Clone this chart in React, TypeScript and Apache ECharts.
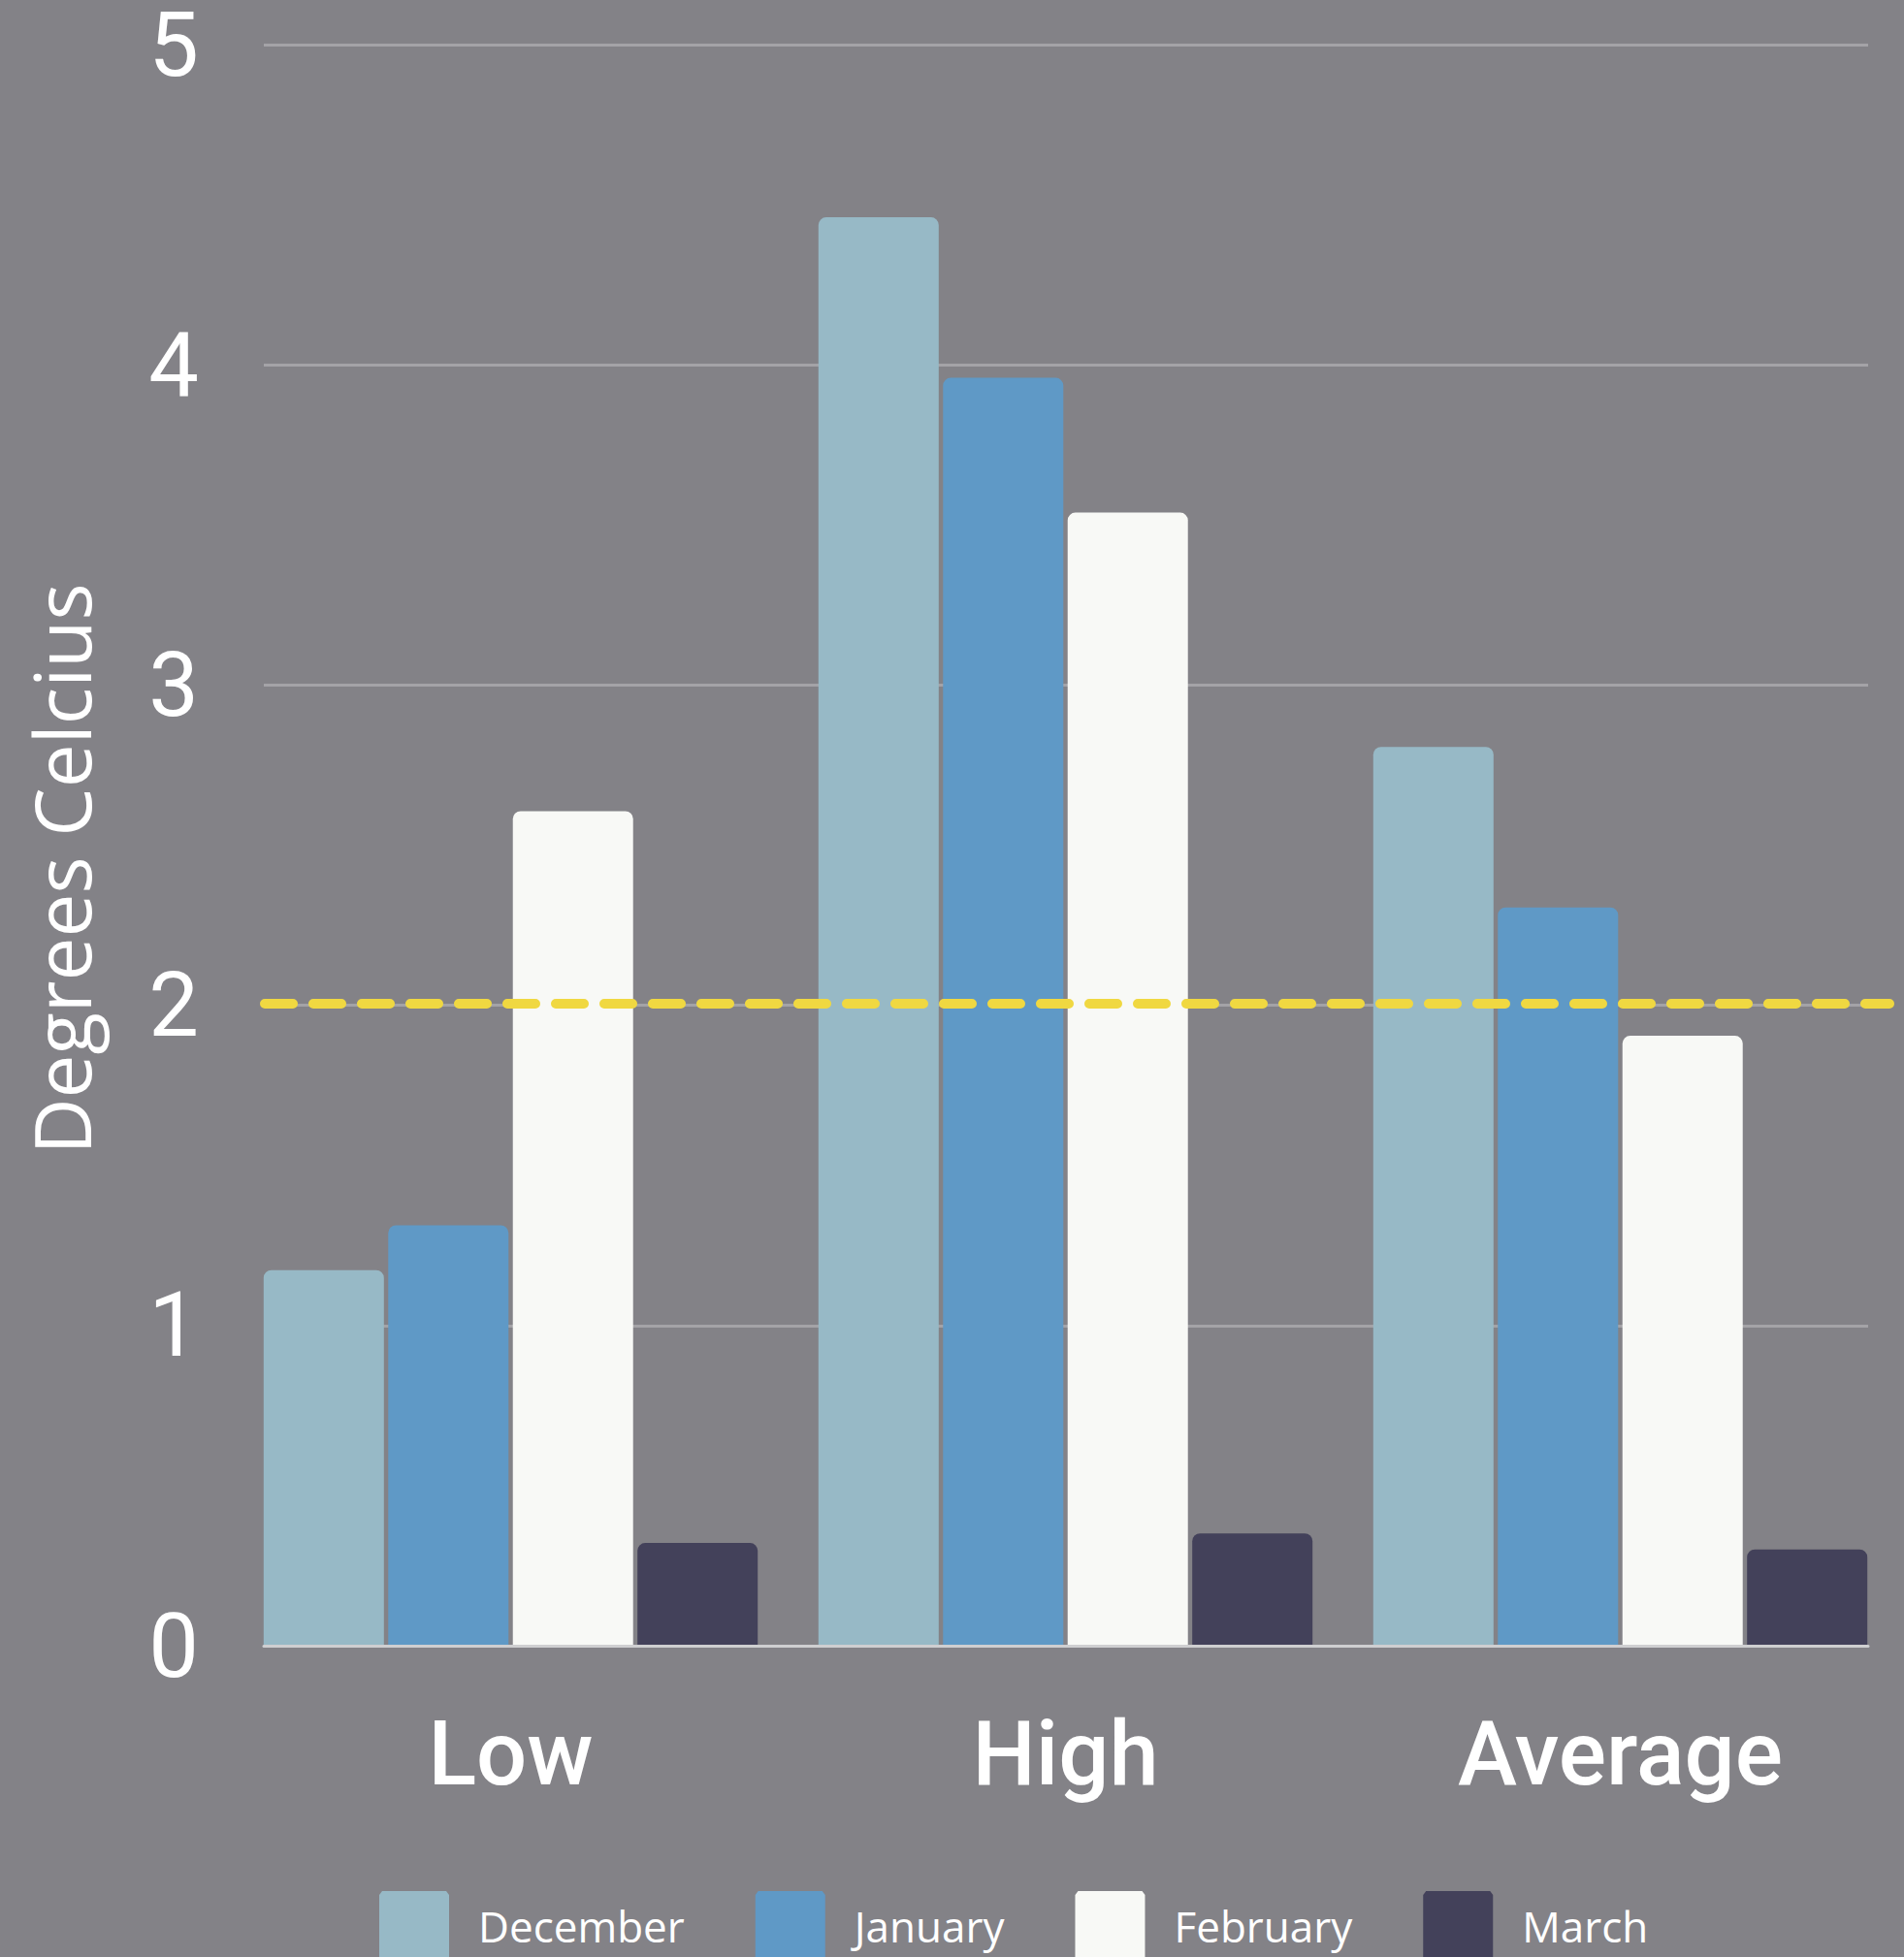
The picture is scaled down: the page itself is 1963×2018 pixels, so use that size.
import React, { useEffect, useRef } from "react";
import * as echarts from "echarts";

const categories = ["Low", "High", "Average"];
const seriesNames = ["December", "January", "February", "March"];
const december = [1.17, 4.45, 2.8];
const january = [1.31, 3.95, 2.3];
const february = [2.6, 3.53, 1.9];
const march = [0.32, 0.35, 0.3];
const seriesColors = ["#97B9C6", "#5F99C6", "#F8F9F6", "#43415A"];
const yMin = 0;
const yMax = 5;
const yInterval = 1;
const threshold = 2;
const axisTitle = "Degrees Celcius";

const TOP = 42;
const BOTTOM = 321;

export default function App() {
  const ref = useRef<HTMLDivElement>(null);

  useEffect(() => {
    if (!ref.current) return;
    const chart = echarts.init(ref.current, null, { renderer: "svg" });
    const values = [december, january, february, march];

    const option: any = {
      animation: false,
      backgroundColor: "#838287",
      graphic: [
        {
          type: "text",
          x: 62,
          y: 896,
          rotation: Math.PI / 2,
          style: {
            text: axisTitle,
            fontFamily: "Open Sans",
            fontSize: 80,
            fill: "#FFFFFF",
            align: "center",
            verticalAlign: "middle",
          },
        },
      ],
      legend: {
        data: seriesNames,
        left: 386,
        top: 1945,
        itemWidth: 72,
        itemHeight: 72,
        itemGap: 73,
        icon: "path://M3,0 L69,0 L72,4 L72,72 L0,72 L0,4 Z",
        textStyle: {
          fontFamily: "Open Sans",
          fontSize: 44,
          color: "#FFFFFF",
          padding: [0, 0, 0, 25],
        },
      },
      grid: [
        { left: 240.5, right: 6.5, top: TOP, bottom: BOTTOM },
        { left: 272, right: 37, top: TOP, bottom: BOTTOM },
        { left: 273, right: 15, top: TOP, bottom: BOTTOM },
      ],
      xAxis: [
        {
          gridIndex: 0,
          type: "category",
          data: categories,
          boundaryGap: true,
          axisLine: { show: false },
          axisTick: { show: false },
          splitLine: { show: false },
          axisLabel: {
            margin: 65,
            color: "#FFFFFF",
            fontFamily: "Roboto",
            fontWeight: 500,
            fontSize: 92,
          },
        },
        {
          gridIndex: 1,
          type: "category",
          data: categories,
          boundaryGap: true,
          axisTick: { show: false },
          axisLabel: { show: false },
          axisLine: { show: true, lineStyle: { color: "#CFCFD1", width: 3 } },
          z: 5,
        },
        {
          gridIndex: 2,
          type: "value",
          min: 0,
          max: 1,
          show: false,
        },
      ],
      yAxis: [
        {
          gridIndex: 0,
          type: "value",
          min: yMin,
          max: yMax,
          interval: yInterval,
          show: false,
        },
        {
          gridIndex: 1,
          type: "value",
          min: yMin,
          max: yMax,
          interval: yInterval,
          axisLine: { show: false },
          axisTick: { show: false },
          splitLine: { show: true, lineStyle: { color: "#A4A3A7", width: 3 } },
          axisLabel: {
            margin: 67,
            color: "#FFFFFF",
            fontFamily: "Roboto",
            fontSize: 92,
          },
        },
        {
          gridIndex: 2,
          type: "value",
          min: yMin,
          max: yMax,
          show: false,
        },
      ],
      series: [
        ...seriesNames.map((name, i) => ({
          name,
          type: "bar",
          xAxisIndex: 0,
          yAxisIndex: 0,
          data: values[i],
          barWidth: 124,
          barGap: "3.6%",
          itemStyle: { color: seriesColors[i], borderRadius: [8, 8, 0, 0] },
          z: 3,
        })),
        {
          name: "Threshold",
          type: "line",
          xAxisIndex: 2,
          yAxisIndex: 2,
          data: [
            [0, threshold],
            [1, threshold],
          ],
          symbol: "none",
          silent: true,
          lineStyle: {
            color: "#F0D841",
            width: 10,
            type: [29, 21],
            cap: "round",
          },
          z: 6,
        },
      ],
    };

    chart.setOption(option);
    return () => chart.dispose();
  }, []);

  return (
    <div
      ref={ref}
      style={{ position: "fixed", left: 0, top: 0, width: 1963, height: 2018 }}
    />
  );
}
